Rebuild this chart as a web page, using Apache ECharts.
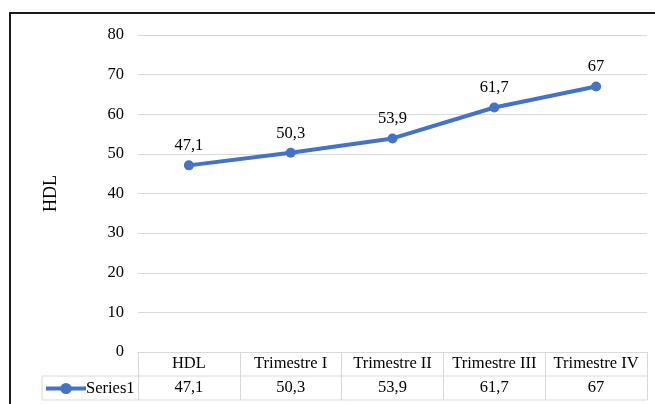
<!DOCTYPE html>
<html>
<head>
<meta charset="utf-8">
<script src="https://cdn.jsdelivr.net/npm/echarts@6/dist/echarts.min.js"></script>
<style>
  html, body { margin: 0; padding: 0; background: #fff; }
  #chart { width: 655px; height: 404px; }
</style>
</head>
<body>
<div id="chart"></div>
<script>
// Chart data
const categories = ['HDL', 'Trimestre I', 'Trimestre II', 'Trimestre III', 'Trimestre IV'];
const seriesName = 'Series1';
const seriesValues = [47.1, 50.3, 53.9, 61.7, 67];
const yTicks = [0, 10, 20, 30, 40, 50, 60, 70, 80];
const yTitle = 'HDL';

// Layout
const W = 655, H = 404;
const plotLeft = 138, plotRight = 647, plotTop = 35, plotBottom = 352;
const rowH = 24;
const legendColLeft = 42;
const FONT = '"Liberation Serif", "Times New Roman", serif';
const FS = 16.5;
const GRID = '#d9d9d9';
const LINE = '#4472C4';

const fmt = v => String(v).replace('.', ',');

const chart = echarts.init(document.getElementById('chart'), null, { renderer: 'canvas' });

const tableLines = [
  // row separators across legend column and data cells
  [legendColLeft, plotBottom + rowH, plotRight, plotBottom + rowH],
  [legendColLeft, plotBottom + 2 * rowH, plotRight, plotBottom + 2 * rowH],
  // left edge of legend cell
  [legendColLeft, plotBottom + rowH, legendColLeft, plotBottom + 2 * rowH]
].map(([x1, y1, x2, y2]) => ({
  type: 'line',
  shape: { x1, y1, x2, y2 },
  style: { stroke: GRID, lineWidth: 1 },
  silent: true
}));

chart.setOption({
  animation: false,
  backgroundColor: '#fff',
  grid: {
    left: plotLeft,
    right: W - plotRight,
    top: plotTop,
    bottom: H - plotBottom,
    containLabel: false
  },
  legend: {
    show: true,
    data: [seriesName],
    left: legendColLeft + 2,
    top: plotBottom + rowH + 4,
    itemWidth: 40,
    itemHeight: 14,
    itemGap: 0,
    padding: 0,
    lineStyle: { width: 4 },
    textStyle: { fontFamily: FONT, fontSize: FS, color: '#000', padding: [0, 0, 0, -5] }
  },
  xAxis: [
    {
      type: 'category',
      data: categories,
      boundaryGap: true,
      position: 'bottom',
      axisLine: { show: true, lineStyle: { color: GRID, width: 1 } },
      axisTick: { show: true, interval: 0, length: 2 * rowH, lineStyle: { color: GRID, width: 1 } },
      axisLabel: {
        interval: 0,
        margin: 4,
        fontFamily: FONT,
        fontSize: FS,
        lineHeight: 16,
        color: '#000'
      },
      splitLine: { show: false }
    },
    {
      type: 'category',
      data: categories,
      boundaryGap: true,
      position: 'bottom',
      offset: rowH,
      axisLine: { show: false },
      axisTick: { show: false },
      axisLabel: {
        interval: 0,
        margin: 4,
        fontFamily: FONT,
        fontSize: FS,
        lineHeight: 16,
        color: '#000',
        formatter: (v, i) => fmt(seriesValues[i])
      }
    }
  ],
  yAxis: {
    type: 'value',
    min: yTicks[0],
    max: yTicks[yTicks.length - 1],
    interval: yTicks[1] - yTicks[0],
    name: yTitle,
    nameLocation: 'middle',
    nameGap: 78,
    nameRotate: 90,
    nameTextStyle: { fontFamily: FONT, fontSize: 18, color: '#000' },
    axisLine: { show: false },
    axisTick: { show: false },
    axisLabel: { margin: 14, fontFamily: FONT, fontSize: FS, color: '#000' },
    splitLine: { show: true, lineStyle: { color: GRID, width: 1 } }
  },
  series: [
    {
      name: seriesName,
      type: 'line',
      data: seriesValues,
      xAxisIndex: 0,
      color: LINE,
      symbol: 'circle',
      symbolSize: 10,
      lineStyle: { color: LINE, width: 4 },
      itemStyle: { color: LINE },
      label: {
        show: true,
        position: 'top',
        distance: 6,
        fontFamily: FONT,
        fontSize: FS,
        color: '#000',
        formatter: p => fmt(p.value)
      }
    }
  ],
  graphic: [
    ...tableLines,
    {
      type: 'line',
      shape: { x1: 9, y1: 13, x2: W, y2: 13 },
      style: { stroke: '#1a1a1a', lineWidth: 2 },
      silent: true
    },
    {
      type: 'line',
      shape: { x1: 10, y1: 13, x2: 10, y2: H },
      style: { stroke: '#1a1a1a', lineWidth: 2 },
      silent: true
    }
  ]
});
</script>
</body>
</html>
